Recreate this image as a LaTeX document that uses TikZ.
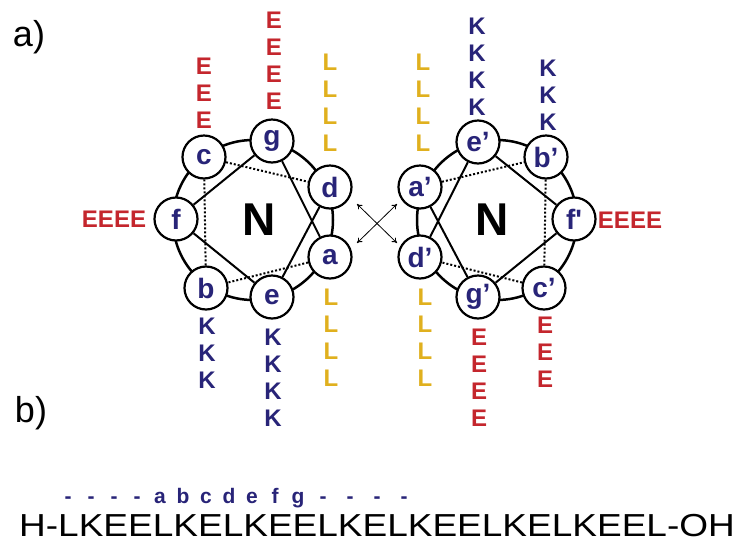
\documentclass[tikz,border=0pt]{standalone}
\usepackage{fontspec}
\setmainfont{Liberation Sans}
\usetikzlibrary{arrows.meta}
\definecolor{ered}{RGB}{196,38,45}
\definecolor{knavy}{RGB}{40,36,120}
\definecolor{lgold}{RGB}{224,176,30}
\begin{document}
\begin{tikzpicture}[x=1pt,y=-1pt,
  res/.style={circle, draw=black, line width=2.2pt, fill=white, minimum size=43pt, inner sep=0pt,
    font=\fontsize{28}{28}\selectfont\bfseries, text=knavy},
  col/.style={inner sep=0pt, align=center, font=\fontsize{24}{27}\selectfont\bfseries},
  ecol/.style={col, text=ered},
  kcol/.style={col, text=knavy},
  lcol/.style={col, text=lgold},
  wheel/.style={draw=black, line width=2.5pt},
  solidlink/.style={draw=black, line width=2pt},
  dotlink/.style={draw=black, line width=2pt, dash pattern=on 2pt off 2pt},
  bigN/.style={font=\fontsize{46}{46}\selectfont\bfseries, text=black, inner sep=0pt},
  lbl/.style={font=\fontsize{36}{36}\selectfont, inner sep=0pt},
  hept/.style={font=\fontsize{21}{21}\selectfont\bfseries, text=knavy, inner sep=0pt, anchor=base},
  dbl/.style={draw=black, line width=0.8pt, {To[length=5pt,width=6pt]}-{To[length=5pt,width=6pt]}}
  ]
\useasboundingbox (0,0) rectangle (745,547);

% labels
\node[lbl] (la) at (29,37) {a)};
\node[lbl] (lb) at (31,413) {b)};

% wheels
\draw[wheel] (253,220) circle (80);
\draw[wheel] (497,220) circle (80);

% left wheel nodes
\node[res] (c) at (204,157) {c};
\node[res] (g) at (272,141) {g};
\node[res] (d) at (330,187) {d};
\node[res] (a) at (330,257) {a};
\node[res] (e) at (272,297) {e};
\node[res] (b) at (206,288) {b};
\node[res] (f) at (176,219) {f};
\node[bigN] (N1) at (259,220) {N};

% right wheel nodes
\node[res] (a2) at (420,187) {a’};
\node[res] (e2) at (478,142) {e’};
\node[res] (b2) at (546,157) {b’};
\node[res] (f2) at (574,219) {f\textquotesingle};
\node[res] (c2) at (544,288) {c’};
\node[res] (g2) at (478,297) {g’};
\node[res] (d2) at (420,257) {d’};
\node[bigN] (N2) at (492,220) {N};

% inner links left
\draw[dotlink] (a) -- (b);
\draw[dotlink] (b) -- (c);
\draw[dotlink] (c) -- (d);
\draw[solidlink] (d) -- (e);
\draw[solidlink] (e) -- (f);
\draw[solidlink] (f) -- (g);
\draw[solidlink] (g) -- (a);
% inner links right
\draw[dotlink] (a2) -- (b2);
\draw[dotlink] (b2) -- (c2);
\draw[dotlink] (c2) -- (d2);
\draw[solidlink] (d2) -- (e2);
\draw[solidlink] (e2) -- (f2);
\draw[solidlink] (f2) -- (g2);
\draw[solidlink] (g2) -- (a2);

% crossing arrows
\coordinate (x1) at (357,204);
\coordinate (x2) at (397,243);
\coordinate (x3) at (357,243);
\coordinate (x4) at (397,204);
\draw[dbl] (x1) -- (x2);
\draw[dbl] (x3) -- (x4);

% residue columns left
\node[ecol] (cE) at (204,93.5) {E\\E\\E};
\node[ecol] (gE) at (274,61) {E\\E\\E\\E};
\node[lcol] (Ltl) at (330,103) {L\\L\\L\\L};
\node[kcol] (bK) at (207,353.5) {K\\K\\K};
\node[kcol] (eK) at (273,377.5) {K\\K\\K\\K};
\node[lcol] (Lbl) at (331,338) {L\\L\\L\\L};
\node[ecol] (fE) at (114,219) {EEEE};

% residue columns right
\node[lcol] (Ltr) at (423,103) {L\\L\\L\\L};
\node[kcol] (eK2) at (477,66.5) {K\\K\\K\\K};
\node[kcol] (bK2) at (548,95) {K\\K\\K};
\node[lcol] (Lbr) at (425,338) {L\\L\\L\\L};
\node[ecol] (gE2) at (479,378) {E\\E\\E\\E};
\node[ecol] (cE2) at (545,352.5) {E\\E\\E};
\node[ecol] (fE2) at (630,220) {EEEE};

% heptad line
\node[hept] (h1) at (68,503) {-};
\node[hept] (h2) at (91,503) {-};
\node[hept] (h3) at (114,503) {-};
\node[hept] (h4) at (137,503) {-};
\node[hept] (ha) at (160,503) {a};
\node[hept] (hb) at (183,503) {b};
\node[hept] (hc) at (206,503) {c};
\node[hept] (hd) at (229,503) {d};
\node[hept] (he) at (252,503) {e};
\node[hept] (hf) at (275,503) {f};
\node[hept] (hg) at (298,503) {g};
\node[hept] (h5) at (323,503) {-};
\node[hept] (h6) at (350,503) {-};
\node[hept] (h7) at (377,503) {-};
\node[hept] (h8) at (404,503) {-};

% sequence
\node[inner sep=0pt, anchor=base west] (seq) at (19,536) {\scalebox{1}[0.86]{\fontsize{37}{37}\selectfont H-LKEELKELKEELKELKEELKELKEEL-OH}};
\end{tikzpicture}
\end{document}
